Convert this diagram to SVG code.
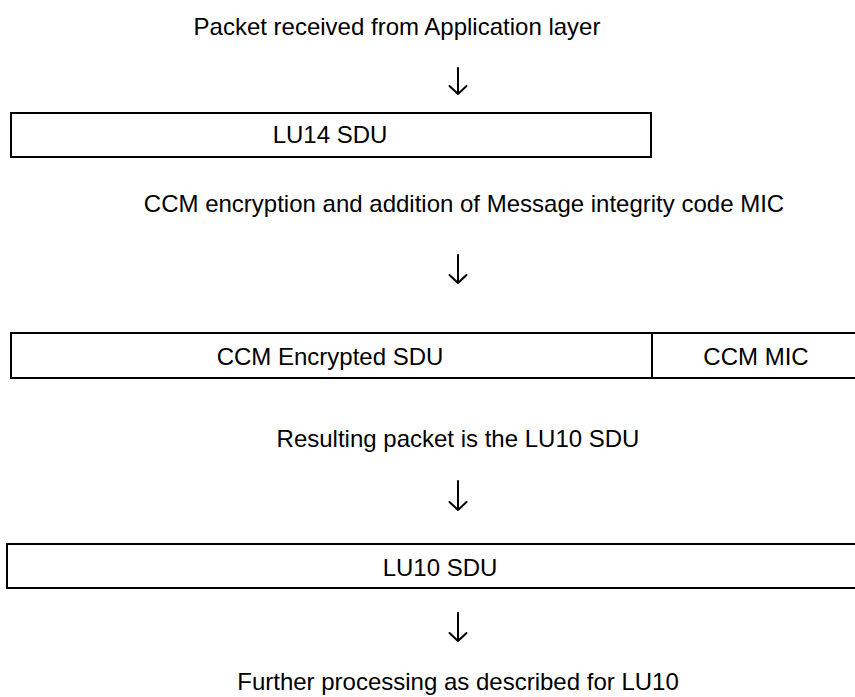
<svg xmlns="http://www.w3.org/2000/svg" width="855" height="697" viewBox="0 0 855 697">
<style>
text{font-family:"Liberation Sans",Arial,sans-serif;font-size:24px;fill:#000;text-anchor:middle}
.box{fill:#fff;stroke:#000;stroke-width:2}
.arr{fill:none;stroke:#000;stroke-width:2;stroke-linecap:round;stroke-linejoin:round}
</style>
<rect width="855" height="697" fill="#fff"/>
<g id="label-top"><text x="397" y="35">Packet received from Application layer</text></g>
<g id="lu14"><rect class="box" x="11" y="113" width="640" height="44"/><text x="330" y="143">LU14 SDU</text></g>
<g id="label-ccm"><text x="464" y="212">CCM encryption and addition of Message integrity code MIC</text></g>
<g id="ccm-packet"><rect class="box" x="11" y="333" width="860" height="45"/><line x1="652" y1="333" x2="652" y2="378" stroke="#000" stroke-width="2"/><text x="330" y="365">CCM Encrypted SDU</text><text x="756" y="365">CCM MIC</text></g>
<g id="label-result"><text x="458" y="447">Resulting packet is the LU10 SDU</text></g>
<g id="lu10"><rect class="box" x="7" y="544" width="860" height="44"/><text x="440" y="576">LU10 SDU</text></g>
<g id="label-further"><text x="458" y="690">Further processing as described for LU10</text></g>
<g id="connectors">
<path class="arr" d="M458 68V94M449.5 86L458 94L466.5 86"/>
<path class="arr" d="M458 255V283M449.5 275L458 283L466.5 275"/>
<path class="arr" d="M458 481V510M449.5 502L458 510L466.5 502"/>
<path class="arr" d="M458 613V641M449.5 633L458 641L466.5 633"/>
</g>
</svg>
